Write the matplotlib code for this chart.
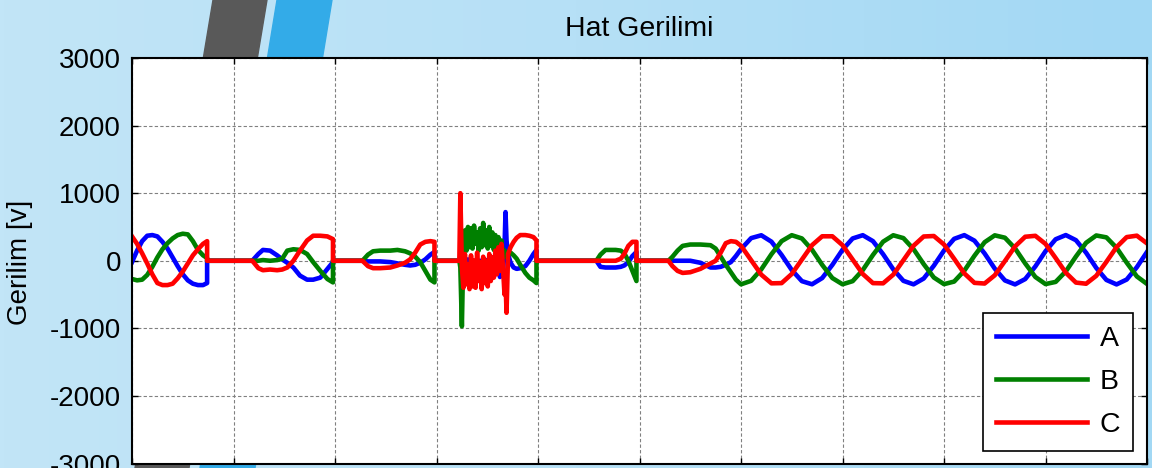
import numpy as np
import matplotlib
matplotlib.use("Agg")
import matplotlib.pyplot as plt
from matplotlib.patches import Polygon

plt.rcParams['font.family'] = ['Liberation Sans', 'DejaVu Sans']
plt.rcParams['axes.unicode_minus'] = False

# time in ms, line voltages of phases A, B, C in volts
# first energised interval
t1 = [0, 1, 2, 3, 4, 5, 6, 7, 8, 9, 10, 11, 12, 13, 14, 14.8, 14.8]
a1 = [-20, 150, 290, 370, 380, 360, 280, 180, 50, -80, -200, -290, -340, -360, -360, -330, 0]
b1 = [-270, -290, -280, -210, -90, 50, 170, 260, 330, 380, 400, 390, 290, 160, 80, 40, 0]
c1 = [360, 250, 110, -40, -200, -330, -360, -360, -340, -260, -160, -40, 80, 170, 250, 290, 0]

# second interval
t2 = [23.7, 24.9, 25.8, 27.2, 28.6, 29.6, 30.6, 31.8, 33.1, 34.5, 35.7, 37.1, 38.5, 39.6, 39.6]
a2 = [0, 100, 160, 150, 80, 20, -30, -100, -220, -280, -280, -250, -120, -20, 0]
b2 = [0, 0, 10, 0, 10, 30, 150, 170, 160, 100, -20, -150, -270, -320, 0]
c2 = [0, -110, -140, -130, -140, -130, -100, 0, 150, 300, 370, 370, 360, 320, 0]

# third interval
t3 = [45.4, 46.5, 47.5, 48.9, 50.9, 52.3, 53.8, 54.8, 55.8, 56.8, 57.8, 58.8, 59.6, 59.6]
a3 = [0, -10, -10, -10, -20, -40, -60, -70, -60, -30, 20, 90, 130, 0]
b3 = [0, 90, 140, 150, 150, 160, 140, 110, 60, -20, -150, -280, -320, 0]
c3 = [0, -80, -110, -110, -100, -70, -30, 20, 120, 240, 280, 290, 280, 0]

# fault transient
t4 = [64.1, 64.5, 64.7, 65.0, 65.3, 65.6, 65.9, 66.2, 66.5, 66.8, 67.1, 67.4, 67.7, 68.0, 68.3,
      68.6, 68.9, 69.2, 69.5, 69.8, 70.1, 70.4, 70.7, 71.0, 71.3, 71.6, 71.9, 72.2, 72.5, 72.8,
      73.1, 73.4, 73.6, 73.8, 74.1, 74.6, 75.2, 75.8, 76.5, 77.5, 78.3, 79.1, 79.7, 79.7]
a4 = [0, 0, 0, 50, -50, 0, -30, 20, -40, 10, -50, 0, -60, 20, -40,
      0, -80, -20, -60, 10, -70, -10, -80, -30, -100, -40, -150, -100, -240, -180,
      -200, 200, 720, 300, 100, -30, -100, -120, -110, -80, 0, 100, 160, 0]
b4 = [0, 0, -100, -970, 200, 450, 150, 500, 200, 480, 180, 520, 250, 420, 150,
      480, 200, 560, 230, 450, 180, 500, 220, 420, 160, 380, 120, 350, 100, 300,
      60, 150, 100, 50, 100, 120, 80, 30, -60, -180, -250, -290, -330, 0]
c4 = [0, 0, 1000, -100, -400, 100, -350, -50, -420, 80, -380, 0, -400, 120, -300,
      -20, -420, 60, -330, 0, -380, 100, -300, 50, -250, 150, -200, 200, -150, 250,
      -100, -500, -300, -770, 100, 200, 280, 340, 380, 380, 370, 350, 300, 0]

# short reclose
t5 = [91.5, 92.3, 93.3, 94.3, 95.3, 96.3, 97.0, 97.8, 98.6, 99.4, 99.4]
a5 = [0, -90, -100, -100, -100, -90, -70, -20, 70, 130, 0]
b5 = [0, 90, 160, 160, 160, 150, 110, 0, -150, -300, 0]
c5 = [0, 0, 0, 0, 0, 30, 100, 220, 280, 280, 0]

# final reclose, build-up
t6 = [105.7, 106.5, 107.5, 108.5, 110, 112, 114, 115, 116, 117, 118, 119]
a6 = [0, 0, 0, 0, 0, -30, -100, -100, -90, -60, -20, 70]
b6 = [0, 60, 150, 220, 240, 240, 230, 180, 60, -60, -170, -280]
c6 = [0, -80, -150, -180, -170, -120, -40, 0, 120, 260, 290, 280]

# steady state, sampled every 2 ms from 120 ms
t7 = np.arange(120, 201, 2)
a7 = [172, 335, 377, 282, 86, -137, -302, -348, -256, -61,
      162, 330, 378, 290, 97, -127, -297, -349, -263, -73,
      151, 324, 379, 297, 108, -116, -291, -350, -271, -84,
      141, 318, 380, 304, 119, -106, -284, -350, -278, -95, 130]
b7 = [-349, -297, -127, 97, 290, 378, 330, 162, -61, -256,
      -348, -302, -137, 86, 282, 377, 335, 172, -50, -248,
      -346, -308, -147, 74, 274, 376, 341, 183, -39, -240,
      -345, -313, -158, 63, 266, 374, 346, 192, -28, -232, -343]
c7 = [222, 7, -206, -334, -331, -196, 18, 231, 362, 362,
      231, 18, -196, -331, -334, -206, 7, 222, 359, 366,
      240, 29, -187, -327, -337, -215, -5, 212, 355, 369,
      249, 40, -177, -323, -340, -223, -16, 202, 350, 371, 257]

t = np.concatenate([t1, t2, t3, t4, t5, t6, t7])
va = np.concatenate([a1, a2, a3, a4, a5, a6, a7])
vb = np.concatenate([b1, b2, b3, b4, b5, b6, b7])
vc = np.concatenate([c1, c2, c3, c4, c5, c6, c7])

W, H = 1152, 468
fig = plt.figure(figsize=(W / 100, H / 100), dpi=100)

# slide background with the two slanted bands
bg = fig.add_axes([0, 0, 1, 1], zorder=0)
grad = np.linspace(0, 1, 256).reshape(1, -1)
cmap = matplotlib.colors.LinearSegmentedColormap.from_list("bg", ["#c2e5f7", "#b6e0f6", "#a2d8f4"])
bg.imshow(grad, cmap=cmap, aspect="auto", extent=[0, W, H, 0])
bg.add_patch(Polygon([[213, 0], [267, 0], [189, H], [135, H]], closed=True, color="#595959"))
bg.add_patch(Polygon([[277, 0], [332, 0], [255, H], [200, H]], closed=True, color="#33abe8"))
bg.set_xlim(0, W)
bg.set_ylim(H, 0)
bg.axis("off")

ax = fig.add_axes([132 / W, 1 - 463.5 / H, (1147 - 132) / W, 405.5 / H], zorder=1)
ax.set_facecolor("white")

ax.plot(t, va, color=(0, 0, 1), lw=3.3, label="A")
ax.plot(t, vb, color=(0, 0.5, 0), lw=3.3, label="B")
ax.plot(t, vc, color=(1, 0, 0), lw=3.3, label="C")

ax.set_xlim(0, 200)
ax.set_ylim(-3000, 3000)
ax.set_xticks(np.arange(0, 201, 20))
ax.set_yticks(np.arange(-3000, 3001, 1000))
ax.grid(True, color="#808080", linestyle=(0, (3, 2)), linewidth=0.8)
ax.tick_params(direction="in", length=4, width=1, top=True, right=True,
               labelbottom=False, labelsize=20, pad=8)
for s in ax.spines.values():
    s.set_color("black")
    s.set_linewidth(1.5)

ax.set_title("Hat Gerilimi", fontsize=20.5, pad=16)
fig.text(20 / W, 1 - 262 / H, "Gerilim [v]", rotation=90, fontsize=20,
         ha="center", va="center")

leg = ax.legend(loc="lower right", bbox_to_anchor=(1133 / W, 1 - 451 / H),
                bbox_transform=fig.transFigure, borderaxespad=0, fontsize=20.5,
                handlelength=3.2, handletextpad=0.45, labelspacing=0.6,
                borderpad=0.45, fancybox=False, framealpha=1)
leg.get_frame().set_edgecolor("black")
leg.get_frame().set_linewidth(1.2)

fig.savefig("out.png", dpi=100)
